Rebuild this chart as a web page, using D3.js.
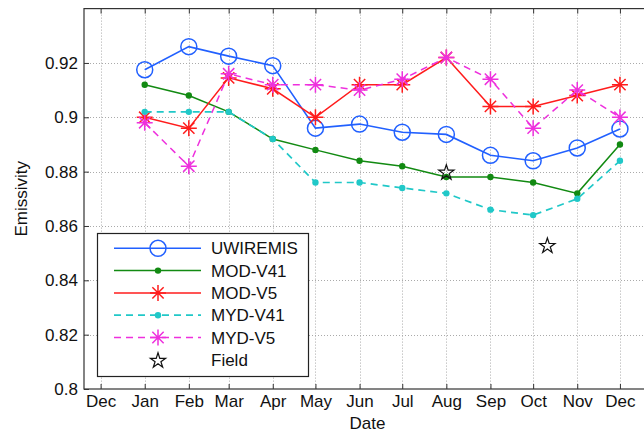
<!DOCTYPE html>
<html>
<head>
<meta charset="utf-8">
<script src="https://cdn.jsdelivr.net/npm/d3@7"></script>
<style>
  body { margin: 0; background: #fff; }
  svg { display: block; font-family: "Liberation Sans", Arial, sans-serif; }
</style>
</head>
<body>
<div id="chart"></div>
<script>
// monthly values, Jan..Dec
const months = ["Jan", "Feb", "Mar", "Apr", "May", "Jun", "Jul", "Aug", "Sep", "Oct", "Nov", "Dec"];
const tickLabels = ["Dec", "Jan", "Feb", "Mar", "Apr", "May", "Jun", "Jul", "Aug", "Sep", "Oct", "Nov", "Dec"];
const uwiremis = [0.9175, 0.926, 0.9225, 0.919, 0.896, 0.8975, 0.8945, 0.8937, 0.886, 0.884, 0.8887, 0.8957];
const modV41 = [0.912, 0.908, 0.902, 0.892, 0.888, 0.884, 0.882, 0.878, 0.878, 0.876, 0.872, 0.890];
const modV5 = [0.900, 0.896, 0.9145, 0.9105, 0.900, 0.912, 0.912, 0.922, 0.904, 0.904, 0.908, 0.912];
const mydV41 = [0.902, 0.902, 0.902, 0.892, 0.876, 0.876, 0.874, 0.872, 0.866, 0.864, 0.870, 0.884];
const mydV5 = [0.898, 0.882, 0.916, 0.912, 0.912, 0.910, 0.914, 0.922, 0.914, 0.896, 0.910, 0.900];
const fieldDates = ["2009-08-01", "2009-10-11"];
const fieldValues = [0.880, 0.853];
const yTicks = [0.8, 0.82, 0.84, 0.86, 0.88, 0.9, 0.92];

const width = 644, height = 433;
const mLeft = 84, mRight = 651, mTop = 8.6, mBottom = 389;
const font = 17;

const svg = d3.select("#chart").append("svg")
  .attr("width", width).attr("height", height);

const x = d3.scaleUtc()
  .domain([new Date("2008-11-19T08:00Z"), new Date("2009-12-22T20:00Z")])
  .range([mLeft, mRight]);
const y = d3.scaleLinear().domain([0.8, 0.94]).range([mBottom, mTop]);

const monthDate = i => new Date(Date.UTC(2009, i, 1));
const tickDates = d3.range(-1, 12).map(monthDate);

// grid
const grid = svg.append("g").attr("stroke", "#aaa").attr("stroke-width", 1)
  .attr("stroke-dasharray", "1,2");
grid.selectAll(".gx").data(tickDates).join("line")
  .attr("x1", d => Math.round(x(d)) + 0.5).attr("x2", d => Math.round(x(d)) + 0.5)
  .attr("y1", mTop).attr("y2", mBottom);
grid.selectAll(".gy").data(yTicks.slice(1)).join("line")
  .attr("y1", d => Math.round(y(d)) + 0.5).attr("y2", d => Math.round(y(d)) + 0.5)
  .attr("x1", mLeft).attr("x2", mRight);

// axes (ticks inside, MATLAB style)
const xAxis = svg.append("g")
  .attr("transform", `translate(0,${mBottom})`)
  .call(d3.axisBottom(x).tickValues(tickDates).tickSize(-5).tickPadding(6)
    .tickFormat((d, i) => tickLabels[i]));
const xTop = svg.append("g")
  .attr("transform", `translate(0,${mTop})`)
  .call(d3.axisTop(x).tickValues(tickDates).tickSize(-5).tickFormat(""));
const yAxis = svg.append("g")
  .attr("transform", `translate(${mLeft},0)`)
  .call(d3.axisLeft(y).tickValues(yTicks).tickSize(-5).tickPadding(6)
    .tickFormat(d => String(+d.toFixed(2))));
[xAxis, xTop, yAxis].forEach(g => {
  g.select(".domain").remove();
  g.selectAll("line").attr("stroke", "#333");
  g.selectAll("text").attr("font-size", font).attr("fill", "#111")
    .attr("font-family", "Liberation Sans, Arial, sans-serif");
});

svg.append("rect")
  .attr("x", mLeft).attr("y", mTop).attr("width", mRight - mLeft).attr("height", mBottom - mTop)
  .attr("fill", "none").attr("stroke", "#333").attr("stroke-width", 1.2);

// labels
svg.append("text").attr("x", (mLeft + mRight) / 2).attr("y", 429)
  .attr("text-anchor", "middle").attr("font-size", font).attr("fill", "#111").text("Date");
svg.append("text").attr("transform", `translate(27,${(mTop + mBottom) / 2}) rotate(-90)`)
  .attr("text-anchor", "middle").attr("font-size", font).attr("fill", "#111").text("Emissivity");

// markers
const asterisk = s => {
  const d = s * 0.7071;
  return `M${-s},0L${s},0M0,${-s}L0,${s}M${-d},${-d}L${d},${d}M${-d},${d}L${d},${-d}`;
};
function drawMarker(g, type, color, cx, cy) {
  if (type === "circle") {
    g.append("circle").attr("cx", cx).attr("cy", cy).attr("r", 8)
      .attr("fill", "none").attr("stroke", color).attr("stroke-width", 1.5);
  } else if (type === "dot") {
    g.append("circle").attr("cx", cx).attr("cy", cy).attr("r", 3.2).attr("fill", color);
  } else if (type === "asterisk") {
    g.append("path").attr("d", asterisk(8)).attr("transform", `translate(${cx},${cy})`)
      .attr("fill", "none").attr("stroke", color).attr("stroke-width", 1.5);
  } else if (type === "star") {
    g.append("path").attr("d", d3.symbol(d3.symbolStar, 72)())
      .attr("transform", `translate(${cx},${cy + 1})`)
      .attr("fill", "none").attr("stroke", color).attr("stroke-width", 1.2);
  }
}

const series = [
  {name: "UWIREMIS", values: uwiremis, color: "#2160ff", dash: null, marker: "circle", w: 1.6},
  {name: "MOD-V41", values: modV41, color: "#128a12", dash: null, marker: "dot", w: 1.5},
  {name: "MOD-V5", values: modV5, color: "#ff1c1c", dash: null, marker: "asterisk", w: 1.5},
  {name: "MYD-V41", values: mydV41, color: "#20c8c8", dash: "7,5", marker: "dot", w: 1.7},
  {name: "MYD-V5", values: mydV5, color: "#ee30dd", dash: "7,5", marker: "asterisk", w: 1.5}
];

const line = d3.line().x(d => x(d[0])).y(d => y(d[1]));
series.forEach(s => {
  const pts = s.values.map((v, i) => [monthDate(i), v]);
  const g = svg.append("g");
  g.append("path").attr("d", line(pts)).attr("fill", "none")
    .attr("stroke", s.color).attr("stroke-width", s.w)
    .attr("stroke-dasharray", s.dash);
  pts.forEach(p => drawMarker(g, s.marker, s.color, x(p[0]), y(p[1])));
});

const fg = svg.append("g");
fieldDates.forEach((d, i) => drawMarker(fg, "star", "#111", x(new Date(d)), y(fieldValues[i])));

// legend
const lg = svg.append("g");
lg.append("rect").attr("x", 97.5).attr("y", 233.5).attr("width", 211).attr("height", 143)
  .attr("fill", "#fff").attr("stroke", "#222").attr("stroke-width", 1.2);
const legendItems = series.concat([{name: "Field", color: "#111", marker: "star"}]);
legendItems.forEach((s, i) => {
  const ry = 248.3 + i * 22.3;
  if (s.values) {
    lg.append("line").attr("x1", 114).attr("x2", 201).attr("y1", ry).attr("y2", ry)
      .attr("stroke", s.color).attr("stroke-width", s.w).attr("stroke-dasharray", s.dash);
  }
  drawMarker(lg, s.marker, s.color, 158, ry);
  lg.append("text").attr("x", 211).attr("y", ry + 6).attr("font-size", font)
    .attr("fill", "#111").text(s.name);
});
</script>
</body>
</html>
